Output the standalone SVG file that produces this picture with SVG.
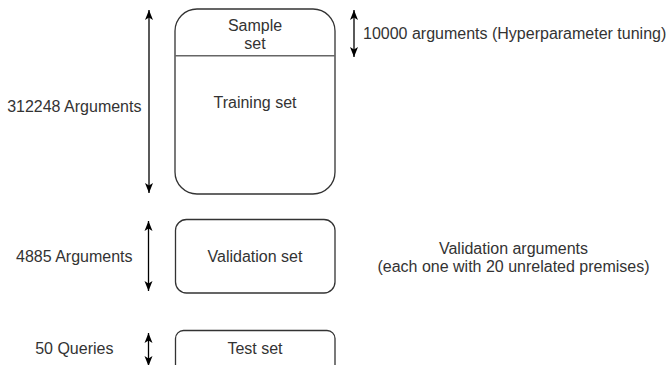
<svg xmlns="http://www.w3.org/2000/svg" width="669" height="365" viewBox="0 0 669 365">
<style>
.t{font-family:"Liberation Sans",Arial,sans-serif;font-size:16px;fill:#333}
.m{text-anchor:middle}
.box{fill:#fff;stroke:#333;stroke-width:1.3}
.arr{stroke:#000;stroke-width:1.3;fill:none;marker-start:url(#ah);marker-end:url(#ah)}
</style>
<defs>
<marker id="ah" markerUnits="userSpaceOnUse" viewBox="0 0 10 8" refX="10" refY="4" markerWidth="10" markerHeight="8.5" orient="auto-start-reverse">
<path d="M0,0 L10,4 L0,8 L2.5,4 z" fill="#000"/>
</marker>
</defs>
<rect width="669" height="365" fill="#fff"/>
<g id="connectors">
<line class="arr" x1="149" y1="10" x2="149" y2="193"/>
<line class="arr" x1="354" y1="10" x2="354" y2="57"/>
<line class="arr" x1="148.5" y1="221" x2="148.5" y2="291"/>
<line class="arr" x1="148.5" y1="333" x2="148.5" y2="366"/>
</g>
<g id="training">
<rect class="box" x="175" y="9" width="160" height="185" rx="22"/>
<line x1="175" y1="55.7" x2="335" y2="55.7" stroke="#666" stroke-width="1.6"/>
<text class="t m" x="255" y="108.3">Training set</text>
</g>
<g id="sample">
<text class="t m" x="255" y="31">Sample</text>
<text class="t m" x="255" y="48.5">set</text>
</g>
<g id="validation">
<rect class="box" x="175.5" y="219.5" width="159.5" height="73.5" rx="11"/>
<text class="t m" x="255" y="261.7">Validation set</text>
</g>
<g id="test">
<rect class="box" x="175.5" y="330.5" width="159.5" height="50" rx="8"/>
<text class="t m" x="255" y="354.3">Test set</text>
</g>
<g id="labels">
<text class="t m" x="74.3" y="111.7">312248 Arguments</text>
<text class="t m" x="74.3" y="262.2">4885 Arguments</text>
<text class="t m" x="74.3" y="354.3">50 Queries</text>
<text class="t" x="363" y="39.3">10000 arguments (Hyperparameter tuning)</text>
<text class="t m" x="513.5" y="253.5">Validation arguments</text>
<text class="t m" x="513.5" y="271.5">(each one with 20 unrelated premises)</text>
</g>
</svg>
